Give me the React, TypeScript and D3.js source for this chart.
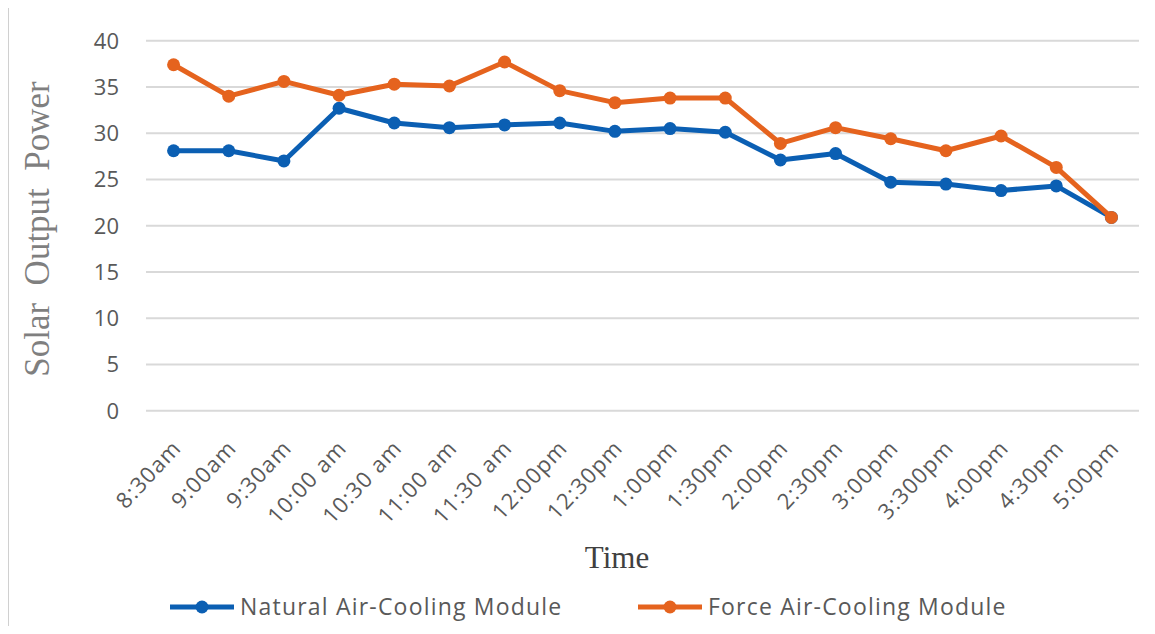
import { useEffect, useRef } from "react";
import * as d3 from "d3";

const times = [
  "8:30am", "9:00am", "9:30am", "10:00 am", "10:30 am", "11:00 am", "11:30 am", "12:00pm", "12:30pm",
  "1:00pm", "1:30pm", "2:00pm", "2:30pm", "3:00pm", "3:300pm", "4:00pm", "4:30pm", "5:00pm",
];
const naturalCooling = [28.1, 28.1, 27.0, 32.7, 31.1, 30.6, 30.9, 31.1, 30.2, 30.5, 30.1, 27.1, 27.8, 24.7, 24.5, 23.8, 24.3, 20.9];
const forceCooling = [37.4, 34.0, 35.6, 34.1, 35.3, 35.1, 37.7, 34.6, 33.3, 33.8, 33.8, 28.9, 30.6, 29.4, 28.1, 29.7, 26.3, 20.9];
const yTicks = [0, 5, 10, 15, 20, 25, 30, 35, 40];

const series = [
  { name: "Natural Air-Cooling Module", values: naturalCooling, color: "#0B5FB3" },
  { name: "Force Air-Cooling Module", values: forceCooling, color: "#E5631E" },
];

export default function App() {
  const ref = useRef<SVGSVGElement>(null);

  useEffect(() => {
    const el = ref.current;
    if (!el) return;
    const W = 1155, H = 634;
    const M = { left: 146, right: 16, top: 40.7, bottom: 223.3 };
    const svg = d3.select(el);
    svg.selectAll("*").remove();

    const x = d3.scaleBand<string>().domain(times).range([M.left, W - M.right]);
    const y = d3.scaleLinear().domain([0, 40]).range([H - M.bottom, M.top]);
    const cx = (t: string) => (x(t) ?? 0) + x.bandwidth() / 2;
    const sans = "'Open Sans', 'DejaVu Sans', sans-serif";
    const serif = "'Liberation Serif', 'DejaVu Serif', serif";

    // frame
    svg.append("rect").attr("x", 8).attr("y", 7).attr("width", W + 10).attr("height", H)
      .attr("fill", "#fff").attr("stroke", "#D0D0D0").attr("stroke-width", 2);

    // gridlines + y tick labels
    svg.append("g").selectAll("line").data(yTicks).join("line")
      .attr("x1", M.left).attr("x2", W - M.right).attr("y1", (d) => y(d)).attr("y2", (d) => y(d))
      .attr("stroke", "#D9D9D9").attr("stroke-width", 2);
    svg.append("g").selectAll("text").data(yTicks).join("text")
      .attr("x", 119).attr("y", (d) => y(d) + 8).attr("text-anchor", "end")
      .attr("fill", "#595959").attr("font-size", 22).attr("font-family", sans).text((d) => d);

    // x tick labels
    svg.append("g").selectAll("text").data(times).join("text")
      .attr("transform", (d) => `translate(${cx(d) + 9},${449}) rotate(-47)`).attr("text-anchor", "end")
      .attr("fill", "#595959").attr("font-size", 22).attr("letter-spacing", 1.2)
      .attr("font-family", sans).text((d) => d);

    // axis titles
    svg.append("text").attr("transform", "translate(49,229) rotate(-90)").attr("text-anchor", "middle")
      .attr("fill", "#7F7F7F").attr("font-size", 35).attr("font-family", serif).style("white-space", "pre")
      .text("Solar  Output  Power");
    svg.append("text").attr("x", 617).attr("y", 568).attr("text-anchor", "middle")
      .attr("fill", "#404040").attr("font-size", 31).attr("font-family", serif).text("Time");

    // series
    const line = d3.line<number>().x((_, i) => cx(times[i])).y((d) => y(d));
    series.forEach((s) => {
      const g = svg.append("g");
      g.append("path").datum(s.values).attr("d", line).attr("fill", "none")
        .attr("stroke", s.color).attr("stroke-width", 5).attr("stroke-linejoin", "round");
      g.selectAll("circle").data(s.values).join("circle")
        .attr("cx", (_, i) => cx(times[i])).attr("cy", (d) => y(d)).attr("r", 6.5).attr("fill", s.color);
    });

    // legend
    const legendX = [170, 638];
    const lg = svg.append("g").selectAll("g").data(series).join("g")
      .attr("transform", (_, i) => `translate(${legendX[i]},607)`);
    lg.append("line").attr("x1", 0).attr("x2", 64).attr("stroke", (d) => d.color).attr("stroke-width", 5);
    lg.append("circle").attr("cx", 32).attr("r", 6.5).attr("fill", (d) => d.color);
    lg.append("text").attr("x", 70).attr("y", 8).attr("fill", "#595959").attr("font-size", 23)
      .attr("letter-spacing", 1.2).attr("font-family", sans).text((d) => d.name);
  }, []);

  return <svg ref={ref} width={1155} height={634} style={{ display: "block", margin: -8 }} role="img" aria-label="Solar output power chart" />;
}
